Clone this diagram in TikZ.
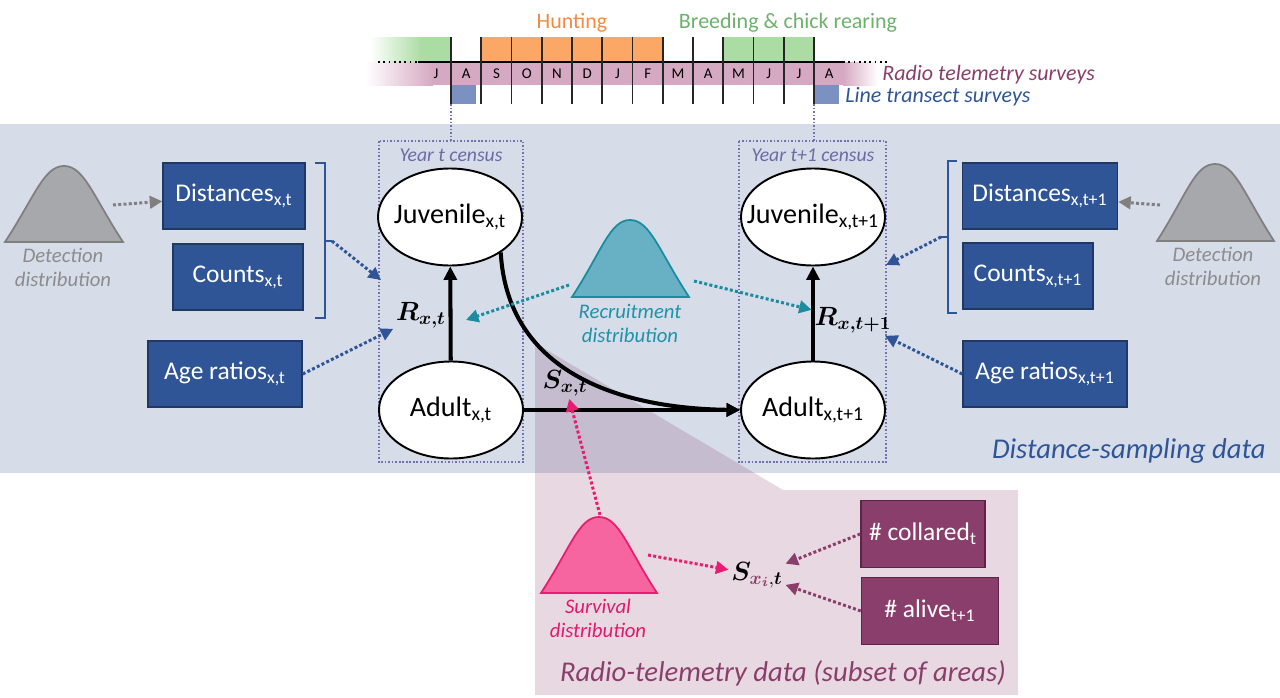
\RequirePackage{fix-cm}
\documentclass[tikz,border=0pt]{standalone}
\usepackage{fontspec}
\setmainfont{Carlito}
\usepackage{amsmath}
\usepackage{bm}
\usetikzlibrary{positioning,arrows.meta,shapes.geometric,backgrounds}
\definecolor{bandblue}{HTML}{D6DCE8}
\definecolor{boxblue}{HTML}{2F5597}
\definecolor{boxline}{HTML}{1F3864}
\definecolor{plum}{HTML}{8A3E6B}
\definecolor{plumline}{HTML}{5E2447}
\definecolor{censusline}{HTML}{7272B0}
\definecolor{censustext}{HTML}{6B6BA6}
\definecolor{huntcell}{HTML}{FBA866}
\definecolor{breedcell}{HTML}{AADCA3}
\definecolor{hunttext}{HTML}{EE8C44}
\definecolor{breedtext}{HTML}{6CB26B}
\definecolor{radioband}{HTML}{D6A9C2}
\definecolor{transect}{HTML}{7A91C2}
\definecolor{detfill}{HTML}{A6A8AC}
\definecolor{detline}{HTML}{7F7F7F}
\definecolor{dettext}{HTML}{8C8C8C}
\definecolor{recfill}{HTML}{68B1C4}
\definecolor{recline}{HTML}{1A8C9E}
\definecolor{rectext}{HTML}{1E93A8}
\definecolor{survfill}{HTML}{F6659F}
\definecolor{survline}{HTML}{E81C70}
\definecolor{survtext}{HTML}{E3186B}

\begin{document}
\begin{tikzpicture}[x=0.2mm,y=-0.2mm,
    databox/.style={fill=boxblue,draw=boxline,line width=0.8pt,text=white,minimum height=13.2mm,inner sep=0pt,font=\fontsize{14.5}{17}\selectfont},
    plumbox/.style={databox,fill=plum,draw=plumline,minimum height=13.3mm},
    stage/.style={ellipse,draw,line width=1.1pt,fill=white,minimum width=28.8mm,minimum height=19.4mm,inner sep=0pt,font=\fontsize{16}{19}\selectfont},
    rate/.style={inner sep=1.5pt,font=\fontsize{15}{18}\selectfont},
    lbl/.style={align=center,inner sep=0pt,font=\fontsize{11.8}{13.6}\selectfont\itshape},
    month/.style={inner sep=0pt,font=\fontsize{8.5}{10}\selectfont},
    census/.style={censusline,line width=0.8pt,dash pattern=on 0.9pt off 1.1pt},
    brace/.style={boxblue,line width=1.6pt},
    dotarr/.style={line width=1.7pt,dash pattern=on 1.7pt off 1.3pt,-{Triangle[length=2.5mm,width=2.5mm]}},
    flow/.style={line width=2.3pt,-{Triangle[length=2.7mm,width=2.6mm]}},
    tick/.style={line width=1.1pt,black!85}]
 \useasboundingbox (0,0) rectangle (1280,698);

 \begin{pgfonlayer}{background}
    \fill[bandblue] (0,124) rectangle (1280,473);
    \fill[plum,fill opacity=0.2] (535,343) -- (783,490) -- (1018,490) -- (1018,695) -- (535,695) -- cycle;
 \end{pgfonlayer}

 % calendar
 \shade[left color=white,right color=breedcell] (370,37) rectangle (422,62);
 \fill[breedcell] (421,37) rectangle (451,62);
 \fill[huntcell] (481.25,37) rectangle (662.75,62);
 \fill[breedcell] (723.25,37) rectangle (814,62);
 \shade[left color=white,right color=radioband] (365,62) rectangle (433,85);
 \fill[radioband] (432,62) rectangle (844,85);
 \shade[left color=radioband,right color=white] (843,62) rectangle (878,85);
 \fill[transect] (451,85) rectangle (476,104);
 \fill[transect] (814,85) rectangle (839,104);
 \draw[line width=1.1pt] (418,62) -- (843,62);
 \draw[dotted,line width=1pt] (378,62) -- (418,62) (843,62) -- (887,62);
 \foreach \k in {0,...,12}
    \draw[tick] (451+30.25*\k,37) -- (451+30.25*\k,104);
 \foreach \m [count=\k from 0] in {J,A,S,O,N,D,J,F,M,A,M,J,J,A}
    \node[month] (m\k) at (436+30.25*\k,73.5) {\m};

 \node[inner sep=0pt,text=hunttext,font=\fontsize{12.5}{15}\selectfont] (hunt) at (572,23) {Hunting};
 \node[inner sep=0pt,text=breedtext,font=\fontsize{12.5}{15}\selectfont] (breed) at (788,23) {Breeding \& chick rearing};
 \node[inner sep=0pt,anchor=west,text=plum,font=\fontsize{12.5}{15}\selectfont\itshape] (radio) at (882,75) {Radio telemetry surveys};
 \node[inner sep=0pt,anchor=west,text=boxblue,font=\fontsize{12.5}{15}\selectfont\itshape] (transect) at (845,97) {Line transect surveys};

 % census years
 \draw[census] (451,104) -- (451,141) (814,104) -- (814,141);
 \draw[census] (379,141) rectangle (523,462);
 \draw[census] (739,141) rectangle (886,462);
 \node[inner sep=0pt,text=censustext,font=\fontsize{11.2}{13}\selectfont\itshape] (year1) at (451,155) {Year t census};
 \node[inner sep=0pt,text=censustext,font=\fontsize{11.2}{13}\selectfont\itshape] (year2) at (813,155) {Year t+1 census};

 \node[stage] (juv1) at (450,217) {\makebox[0pt]{Juvenile\textsubscript{x,t}}};
 \node[stage] (adu1) at (451,410) {\makebox[0pt]{Adult\textsubscript{x,t}}};
 \node[stage] (juv2) at (813,217) {\makebox[0pt]{Juvenile\textsubscript{x,t+1}}};
 \node[stage] (adu2) at (813,410) {\makebox[0pt]{Adult\textsubscript{x,t+1}}};

 \node[rate] (r1) at (421,315) {$\bm{R_{x,t}}$};
 \node[rate] (r2) at (853,320) {$\bm{R_{x,t+1}}$};
 \node[rate] (s1) at (565,383) {$\bm{S_{x,t}}$};
 \node[rate] (s2) at (757,575) {$\bm{S}_{\bm{\textcolor{plum}{x_i}},\bm{t}}$};

 \path[flow]
    (adu1) edge (juv1)
    (adu2) edge (juv2)
    (adu1) edge (adu2);
 \draw[flow] (juv1.-35) .. controls +(6,108) and +(-140,-2) .. (adu2.west);

 % data boxes
 \node[databox,minimum width=28.4mm] (dist1) at (234,196) {Distances\textsubscript{x,t}};
 \node[databox,minimum width=26mm] (count1) at (238,277) {Counts\textsubscript{x,t}};
 \node[databox,minimum width=30.8mm] (age1) at (225,374) {Age ratios\textsubscript{x,t}};
 \node[databox,minimum width=31mm] (dist2) at (1040,196) {Distances\textsubscript{x,t+1}};
 \node[databox,minimum width=26mm] (count2) at (1028,276) {Counts\textsubscript{x,t+1}};
 \node[databox,minimum width=32.8mm] (age2) at (1045,374) {Age ratios\textsubscript{x,t+1}};
 \node[plumbox,minimum width=24.8mm] (collared) at (923,534) {\# collared\textsubscript{t}};
 \node[plumbox,minimum width=27.4mm] (alive) at (930,611) {\# alive\textsubscript{t+1}};

 \draw[brace] (315,163) -- (325,163) -- (325,318) -- (315,318) (325,241) -- (332,241);
 \draw[brace] (957,161) -- (948,161) -- (948,313) -- (957,313) (948,237) -- (941,237);
 \coordinate (brk1) at (332,241);
 \coordinate (brk2) at (941,237);
 \coordinate (cen1) at (381,280);
 \coordinate (cen2) at (886,265);

 % distributions
 \filldraw[line width=1pt,fill=detfill,draw=detline] (5,242) .. controls +(30,-46) and +(-20,0) .. (64,166) .. controls +(20,0) and +(-30,-46) .. (123,242) -- cycle;
 \filldraw[line width=1pt,fill=detfill,draw=detline] (1157,241) .. controls +(30,-47) and +(-20,0) .. (1215,164) .. controls +(20,0) and +(-30,-47) .. (1274,241) -- cycle;
 \filldraw[line width=1pt,fill=recfill,draw=recline] (572,297) .. controls +(30,-46) and +(-20,0) .. (630,220) .. controls +(20,0) and +(-30,-46) .. (689,297) -- cycle;
 \filldraw[line width=1pt,fill=survfill,draw=survline] (541,593) .. controls +(30,-46) and +(-20,0) .. (599,517) .. controls +(20,0) and +(-30,-46) .. (657,593) -- cycle;
 \node[lbl,text=dettext] (det1) at (63,267) {Detection\\distribution};
 \node[lbl,text=dettext] (det2) at (1213,266) {Detection\\distribution};
 \node[lbl,text=rectext] (rec) at (630,323) {Recruitment\\distribution};
 \node[lbl,text=survtext] (surv) at (598,618) {Survival\\distribution};
 \coordinate (detL) at (113,205);
 \coordinate (detR) at (1160,205);
 \coordinate (recL) at (569,285);
 \coordinate (recR) at (694,281);
 \coordinate (r1tip) at (466,320);
 \coordinate (survtop) at (600,515);
 \coordinate (survR) at (648,555);

 \draw[dotarr,detline] (detL) -- (dist1);
 \draw[dotarr,detline] (detR) -- (dist2);
 \draw[dotarr,boxblue] (brk1) -- (cen1);
 \draw[dotarr,boxblue] (brk2) -- (cen2);
 \draw[dotarr,boxblue] (age1.east) -- (r1);
 \draw[dotarr,boxblue] (age2.west) -- (r2);
 \draw[dotarr,recline] (recL) -- (r1tip);
 \draw[dotarr,recline] (recR) -- (r2);
 \draw[dotarr,survline] (survtop) -- (s1);
 \draw[dotarr,survline] (survR) -- (s2);
 \draw[dotarr,plum] (collared.west) -- (s2);
 \draw[dotarr,plum] (alive.west) -- (s2);

 \node[inner sep=0pt,anchor=east,text=boxblue,font=\fontsize{16.3}{19}\selectfont\itshape] (dsdata) at (1266,451) {Distance-sampling data};
 \node[inner sep=0pt,text=plum,font=\fontsize{16.3}{19}\selectfont\itshape] (rtdata) at (783,673) {Radio-telemetry data (subset of areas)};
\end{tikzpicture}
\end{document}
